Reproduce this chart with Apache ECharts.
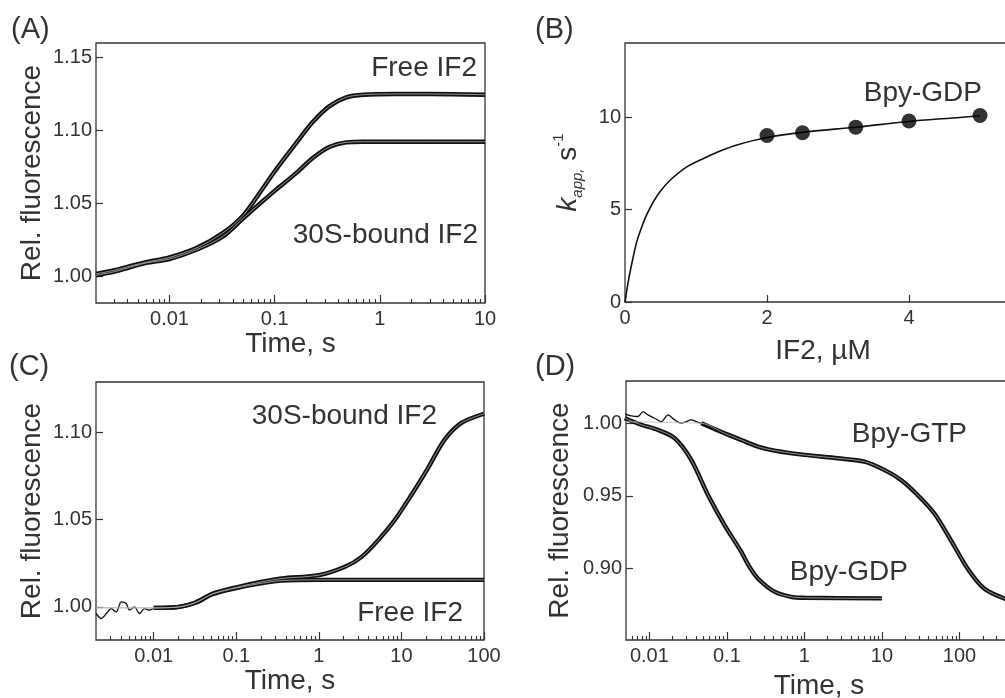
<!DOCTYPE html>
<html><head><meta charset="utf-8">
<script src="https://cdn.jsdelivr.net/npm/echarts@6/dist/echarts.min.js"></script>
<style>html,body{margin:0;padding:0;background:#fff}#c{width:1005px;height:698px}</style>
</head><body><div id="c"></div>
<script>
// ---------- Panel A : fluorescence vs time (log) ----------
const timeA  = [0.002, 0.003, 0.0042, 0.006, 0.01, 0.018, 0.032, 0.05, 0.0775, 0.1, 0.16, 0.23, 0.33, 0.48, 0.7, 1.4, 3, 10];
const freeA  = [1.0015, 1.004, 1.0068, 1.0095, 1.0128, 1.0192, 1.0295, 1.0415, 1.0604, 1.0719, 1.0913, 1.1057, 1.1165, 1.1227, 1.1245, 1.125, 1.125, 1.1245];
const boundA = [1.0005, 1.003, 1.006, 1.009, 1.0117, 1.018, 1.027, 1.0395, 1.0516, 1.0585, 1.0707, 1.081, 1.0886, 1.0918, 1.0922, 1.0922, 1.0922, 1.0922];
const xTicksA = [0.01, 0.1, 1, 10];
const yTicksA = [1.00, 1.05, 1.10, 1.15];

// ---------- Panel B : k_app vs [IF2] ----------
const concB = [2, 2.5, 3.25, 4, 5];
const kB    = [9.0, 9.15, 9.45, 9.78, 10.08];
const fitXB = [0, 0.05, 0.1, 0.165, 0.25, 0.306, 0.4, 0.5, 0.635, 0.87, 1.106, 1.34, 1.576, 2, 2.5, 3.25, 4, 5];
const fitYB = [0, 1.2, 2.15, 3.25, 4.2, 4.72, 5.42, 6.0, 6.58, 7.3, 7.76, 8.16, 8.49, 8.89, 9.17, 9.45, 9.76, 10.05];
const xTicksB = [0, 2, 4, 6];
const yTicksB = [0, 5, 10];

// ---------- Panel C ----------
const timeEarlyC  = [0.002, 0.00232, 0.00267, 0.00306, 0.00352, 0.00404, 0.00464, 0.00509, 0.00585, 0.00672, 0.00772, 0.00887, 0.01];
const boundEarlyC = [0.9962, 0.9933, 0.9962, 0.9990, 0.9971, 1.0029, 1.0019, 0.9981, 1.0, 0.9962, 0.9990, 0.9981, 0.9994];
const timeBoundC  = [0.01, 0.0204, 0.0324, 0.0514, 0.1, 0.206, 0.358, 1, 2.07, 3.3, 5.24, 8.3, 13.2, 20.9, 33.2, 52.8, 100];
const boundC      = [0.9994, 1.0, 1.0025, 1.0075, 1.0112, 1.0144, 1.0163, 1.0182, 1.023, 1.0287, 1.0383, 1.0498, 1.0642, 1.0795, 1.0958, 1.1054, 1.1108];
const timeFreeC   = [0.01, 0.0204, 0.0324, 0.0514, 0.1, 0.206, 0.358, 1, 3.3, 10, 30, 100];
const freeC       = [0.9994, 1.0, 1.0025, 1.0073, 1.0108, 1.0136, 1.0151, 1.0155, 1.0155, 1.0155, 1.0155, 1.0155];
const xTicksC = [0.01, 0.1, 1, 10, 100];
const yTicksC = [1.00, 1.05, 1.10];

// ---------- Panel D ----------
const timeEarlyD = [0.00481, 0.00586, 0.00714, 0.00829, 0.00961, 0.0117, 0.0143, 0.0174, 0.0212, 0.0258, 0.0299, 0.0347, 0.0403, 0.0468];
const gtpEarlyD  = [1.0064, 1.005, 1.0046, 1.008, 1.0057, 1.0034, 1.0011, 1.0057, 1.0023, 1.0, 1.0011, 1.0023, 1.0011, 1.0];
const timeGtpD   = [0.0468, 0.0933, 0.153, 0.251, 0.411, 1, 2.69, 5.93, 10.7, 17.6, 28.8, 47.2, 77.3, 127, 208, 376, 500];
const gtpD       = [1.0, 0.9931, 0.9885, 0.9839, 0.9812, 0.9782, 0.9759, 0.9736, 0.9679, 0.961, 0.9507, 0.9381, 0.9197, 0.9002, 0.8864, 0.8796, 0.8785];
const timeGdpD   = [0.00481, 0.0079, 0.0129, 0.0212, 0.0347, 0.057, 0.0933, 0.153, 0.195, 0.251, 0.411, 0.672, 1, 10];
const gdpD       = [1.0034, 0.9989, 0.9954, 0.9897, 0.9748, 0.9507, 0.930, 0.9117, 0.9014, 0.8933, 0.8842, 0.8807, 0.88, 0.8796];
const xTicksD = [0.01, 0.1, 1, 10, 100, 1000];
const yTicksD = [0.90, 0.95, 1.00];

// ---------- styling ----------
const FONT = "'Liberation Sans', Arial, Helvetica, sans-serif";
const TXT = '#333';
const TRACE = '#111';
const FIT = '#b5b5b5';

function zip(xs, ys) { return xs.map((x, i) => [x, ys[i]]); }
function minorLog(lo, hi) {
  const out = [];
  for (let e = Math.floor(Math.log10(lo)); e <= Math.ceil(Math.log10(hi)); e++) {
    for (let m = 2; m <= 9; m++) {
      const v = +(m * Math.pow(10, e)).toPrecision(6);
      if (v > lo * 1.0001 && v < hi * 0.9999) out.push(v);
    }
  }
  return out;
}
const tickLabelStyle = { fontSize: 20, color: TXT, fontFamily: FONT };
const nameStyle = { fontSize: 28, color: TXT, fontFamily: FONT };

function logMajor(gi, min, max, ticks, name, gap, pad) {
  return {
    type: 'log', gridIndex: gi, position: 'bottom', min, max, logBase: 10,
    axisLine: { show: false }, splitLine: { show: false },
    axisTick: { inside: true, length: 8, customValues: ticks, lineStyle: { color: TXT, width: 1.2 } },
    axisLabel: Object.assign({ margin: 6, customValues: ticks, formatter: v => String(v) }, tickLabelStyle),
    name, nameLocation: 'middle', nameGap: gap,
    nameTextStyle: Object.assign({ padding: pad || 0 }, nameStyle)
  };
}
function logMinor(gi, min, max) {
  return {
    type: 'log', gridIndex: gi, position: 'bottom', min, max, logBase: 10,
    axisLine: { show: false }, splitLine: { show: false },
    axisTick: { inside: true, length: 4, customValues: minorLog(min, max), lineStyle: { color: TXT, width: 1.1 } },
    axisLabel: { show: false }
  };
}
function valY(gi, min, max, ticks, dec, name, gap) {
  return {
    type: 'value', gridIndex: gi, min, max,
    axisLine: { show: false }, splitLine: { show: false },
    axisTick: { inside: true, length: 7, customValues: ticks, lineStyle: { color: TXT, width: 1.2 } },
    axisLabel: Object.assign({ margin: 4, customValues: ticks, formatter: v => v.toFixed(dec) }, tickLabelStyle),
    name, nameLocation: 'middle', nameGap: gap, nameTextStyle: Object.assign({}, nameStyle)
  };
}
function lineSeries(xi, yi, data, color, width, name) {
  return { type: 'line', name, xAxisIndex: xi, yAxisIndex: yi, data, showSymbol: false, symbol: 'none',
    smooth: 0.3, lineStyle: { color, width }, z: width > 2 ? 2 : 3, silent: true };
}
const gridStyle = { show: true, borderColor: '#333', borderWidth: 1.3, backgroundColor: 'transparent', outerBoundsMode: 'none', containLabel: false };

const yB = valY(1, 0, 14, yTicksB, 0, '{k|k}{sub|app,} {s|s}{sup|-1}', 40);
yB.nameTextStyle.rich = {
  k:   { fontSize: 28, fontStyle: 'italic', color: TXT, fontFamily: FONT, lineHeight: 34 },
  sub: { fontSize: 15, fontStyle: 'italic', color: TXT, fontFamily: FONT, lineHeight: 16, verticalAlign: 'bottom' },
  s:   { fontSize: 28, color: TXT, fontFamily: FONT, lineHeight: 34 },
  sup: { fontSize: 15, color: TXT, fontFamily: FONT, lineHeight: 16, verticalAlign: 'top' }
};

const xB = {
  type: 'value', gridIndex: 1, min: 0, max: 6, position: 'bottom',
  axisLine: { show: false }, splitLine: { show: false },
  axisTick: { inside: true, length: 7, customValues: xTicksB, lineStyle: { color: TXT, width: 1.2 } },
  axisLabel: Object.assign({ margin: 6, customValues: xTicksB }, tickLabelStyle),
  name: 'IF2, µM', nameLocation: 'middle', nameGap: 35,
  nameTextStyle: Object.assign({ padding: [0, 30, 0, 0] }, nameStyle)
};

const option = {
  animation: false,
  backgroundColor: '#fff',
  grid: [
    Object.assign({ left: 96, top: 43, width: 389, height: 260 }, gridStyle),
    Object.assign({ left: 625, top: 43, width: 426, height: 259 }, gridStyle),
    Object.assign({ left: 96, top: 382, width: 388, height: 258 }, gridStyle),
    Object.assign({ left: 626, top: 381, width: 411, height: 259 }, gridStyle)
  ],
  xAxis: [
    logMajor(0, 0.002, 10, xTicksA, 'Time, s', 24),
    logMinor(0, 0.002, 10),
    xB,
    logMajor(2, 0.002, 100, xTicksC, 'Time, s', 26),
    logMinor(2, 0.002, 100),
    logMajor(3, 0.005, 1000, xTicksD, 'Time, s', 32, [0, 25, 0, 0]),
    logMinor(3, 0.005, 1000)
  ],
  yAxis: [
    valY(0, 0.9815, 1.16, yTicksA, 2, 'Rel. fluorescence', 50),
    yB,
    valY(2, 0.981, 1.129, yTicksC, 2, 'Rel. fluorescence', 50),
    valY(3, 0.851, 1.029, yTicksD, 2, 'Rel. fluorescence', 52)
  ],
  series: [
    // A
    lineSeries(0, 0, zip(timeA, freeA), TRACE, 4.4, 'Free IF2'),
    lineSeries(0, 0, zip(timeA, boundA), TRACE, 4.4, '30S-bound IF2'),
    lineSeries(0, 0, zip(timeA, freeA), FIT, 0.8, 'Free IF2 fit'),
    lineSeries(0, 0, zip(timeA, boundA), FIT, 0.8, '30S-bound IF2 fit'),
    // B
    { type: 'line', name: 'fit', xAxisIndex: 2, yAxisIndex: 1, data: zip(fitXB, fitYB), symbol: 'none', smooth: 0.3,
      lineStyle: { color: TRACE, width: 1.6 }, silent: true },
    { type: 'scatter', name: 'Bpy-GDP', xAxisIndex: 2, yAxisIndex: 1, data: zip(concB, kB), symbolSize: 15,
      itemStyle: { color: '#000' }, z: 4, silent: true },
    // C
    lineSeries(3, 2, zip(timeEarlyC, boundEarlyC), TRACE, 1.3, '30S-bound IF2 early'),
    lineSeries(3, 2, zip(timeFreeC, freeC), TRACE, 4.4, 'Free IF2'),
    lineSeries(3, 2, zip(timeBoundC, boundC), TRACE, 4.4, '30S-bound IF2'),
    lineSeries(3, 2, zip([0.002].concat(timeFreeC), [0.9995].concat(freeC)), FIT, 0.8, 'Free IF2 fit'),
    lineSeries(3, 2, zip([0.002].concat(timeBoundC), [0.9995].concat(boundC)), FIT, 0.8, '30S-bound IF2 fit'),
    // D
    lineSeries(5, 3, zip(timeEarlyD, gtpEarlyD), TRACE, 1.3, 'Bpy-GTP early'),
    lineSeries(5, 3, zip(timeGtpD, gtpD), TRACE, 4.4, 'Bpy-GTP'),
    lineSeries(5, 3, zip(timeGdpD, gdpD), TRACE, 4.4, 'Bpy-GDP'),
    lineSeries(5, 3, zip([0.0048, 0.01, 0.02].concat(timeGtpD), [1.001, 1.0008, 1.0004].concat(gtpD)), FIT, 0.8, 'Bpy-GTP fit'),
    lineSeries(5, 3, zip(timeGdpD, gdpD), FIT, 0.8, 'Bpy-GDP fit')
  ],
  graphic: [
    { type: 'text', left: 11, top: 15, style: { text: '(A)', fontSize: 29, fill: TXT, fontFamily: FONT } },
    { type: 'text', left: 535, top: 15, style: { text: '(B)', fontSize: 29, fill: TXT, fontFamily: FONT } },
    { type: 'text', left: 9, top: 352, style: { text: '(C)', fontSize: 29, fill: TXT, fontFamily: FONT } },
    { type: 'text', left: 535, top: 352, style: { text: '(D)', fontSize: 29, fill: TXT, fontFamily: FONT } },
    { type: 'text', x: 477, y: 68, style: { text: 'Free IF2', fontSize: 28, fill: TXT, fontFamily: FONT, align: 'right', verticalAlign: 'middle' } },
    { type: 'text', x: 478, y: 235, style: { text: '30S-bound IF2', fontSize: 28, fill: TXT, fontFamily: FONT, align: 'right', verticalAlign: 'middle' } },
    { type: 'text', x: 982, y: 93, style: { text: 'Bpy-GDP', fontSize: 28, fill: TXT, fontFamily: FONT, align: 'right', verticalAlign: 'middle' } },
    { type: 'text', x: 437, y: 416, style: { text: '30S-bound IF2', fontSize: 28, fill: TXT, fontFamily: FONT, align: 'right', verticalAlign: 'middle' } },
    { type: 'text', x: 463, y: 613, style: { text: 'Free IF2', fontSize: 28, fill: TXT, fontFamily: FONT, align: 'right', verticalAlign: 'middle' } },
    { type: 'text', x: 967, y: 434, style: { text: 'Bpy-GTP', fontSize: 28, fill: TXT, fontFamily: FONT, align: 'right', verticalAlign: 'middle' } },
    { type: 'text', x: 908, y: 572, style: { text: 'Bpy-GDP', fontSize: 28, fill: TXT, fontFamily: FONT, align: 'right', verticalAlign: 'middle' } }
  ]
};
const chart = echarts.init(document.getElementById('c'), null, { renderer: 'canvas' });
chart.setOption(option);
</script>
</body></html>
